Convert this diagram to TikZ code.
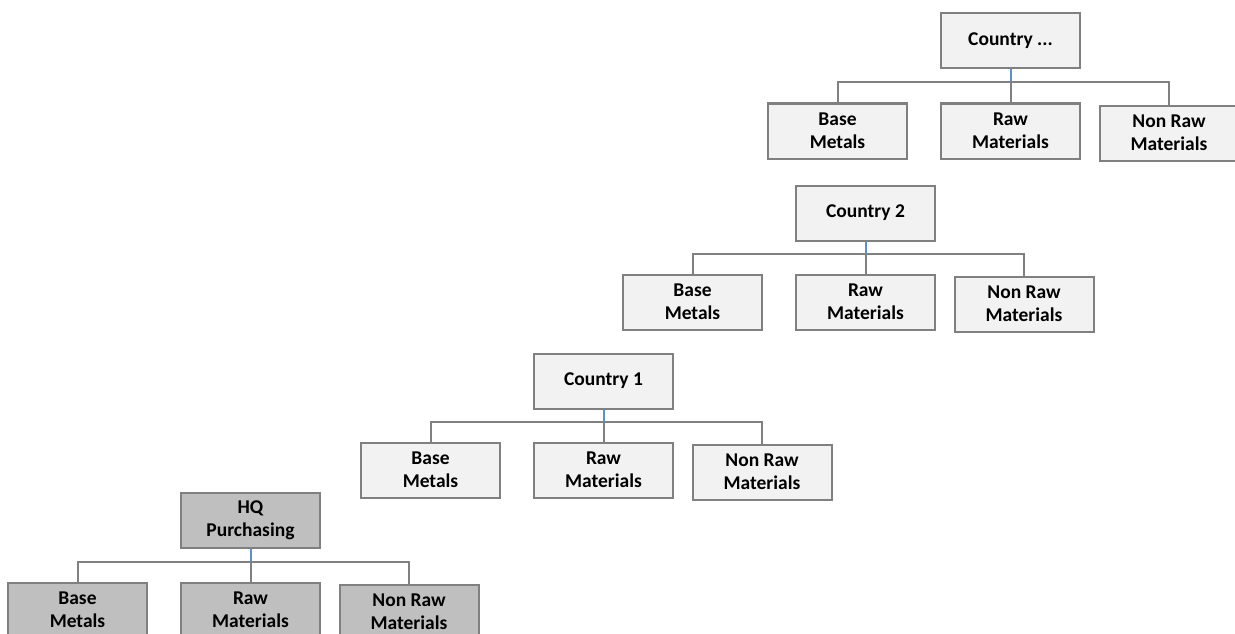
\documentclass[tikz,border=0pt]{standalone}
\usepackage{fontspec}
\setmainfont{Carlito}
\definecolor{boxline}{HTML}{808080}
\definecolor{boxfill}{HTML}{F2F2F2}
\definecolor{hqfill}{HTML}{BFBFBF}
\definecolor{stemblue}{HTML}{5B8FD0}
\tikzset{
  unit/.style={draw=boxline, line width=2pt, fill=boxfill, minimum width=139pt,
    minimum height=55pt, inner sep=2pt, align=center,
    font=\fontsize{19.5}{23}\selectfont\bfseries},
  hqunit/.style={unit, fill=hqfill},
  link/.style={draw=boxline, line width=2pt},
  stem/.style={draw=stemblue, line width=2pt}
}
\begin{document}
\begin{tikzpicture}[x=1pt,y=-1pt]
\useasboundingbox (0,0) rectangle (1235,634);

% Country ...
\node[unit] (cx)  at (1010.5,41)  {Country ...};
\node[unit] (cxB) at (837.5,131)  {Base\\Metals};
\node[unit] (cxR) at (1010.5,131) {Raw\\Materials};
\node[unit] (cxN) at (1169,133)   {Non Raw\\Materials};

% Country 2
\node[unit] (c2)  at (865.5,213)  {Country 2};
\node[unit] (c2B) at (692.5,302)  {Base\\Metals};
\node[unit] (c2R) at (865.5,302)  {Raw\\Materials};
\node[unit] (c2N) at (1024,304)   {Non Raw\\Materials};

% Country 1
\node[unit] (c1)  at (603.5,381)  {Country 1};
\node[unit] (c1B) at (430.5,470)  {Base\\Metals};
\node[unit] (c1R) at (603.5,470)  {Raw\\Materials};
\node[unit] (c1N) at (762,472)    {Non Raw\\Materials};

% HQ
\node[hqunit] (hq)  at (250.5,520.5) {HQ\\Purchasing};
\node[hqunit] (hqB) at (77.5,610)    {Base\\Metals};
\node[hqunit] (hqR) at (250.5,610)   {Raw\\Materials};
\node[hqunit] (hqN) at (409,612)     {Non Raw\\Materials};

\foreach \g in {cx,c2,c1,hq}{
  \draw[link] (\g B.north) -- ++(0,-20) -| (\g N.north);
  \draw[link] (\g R.north) -- ++(0,-20) coordinate (\g J);
  \draw[stem] (\g.south) -- (\g J);
}
\end{tikzpicture}
\end{document}
